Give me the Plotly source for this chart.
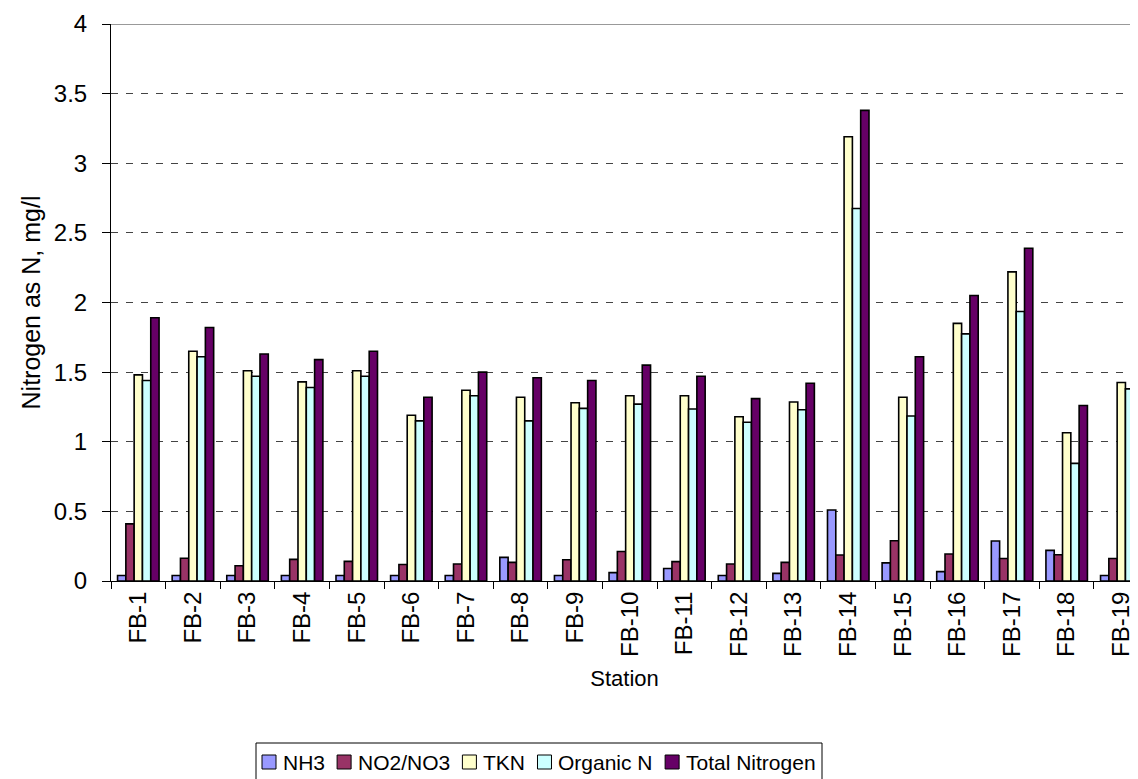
import plotly.graph_objects as go

stations = ["FB-1", "FB-2", "FB-3", "FB-4", "FB-5", "FB-6", "FB-7", "FB-8", "FB-9", "FB-10",
            "FB-11", "FB-12", "FB-13", "FB-14", "FB-15", "FB-16", "FB-17", "FB-18", "FB-19"]
nh3 = [0.04, 0.04, 0.04, 0.04, 0.04, 0.04, 0.04, 0.17, 0.04, 0.06,
       0.09, 0.04, 0.055, 0.51, 0.13, 0.067, 0.287, 0.22, 0.04]
no2_no3 = [0.41, 0.163, 0.11, 0.155, 0.141, 0.119, 0.122, 0.134, 0.153, 0.212,
           0.139, 0.122, 0.134, 0.187, 0.289, 0.194, 0.162, 0.188, 0.162]
tkn = [1.48, 1.65, 1.51, 1.43, 1.51, 1.19, 1.37, 1.32, 1.28, 1.33,
       1.33, 1.18, 1.285, 3.19, 1.32, 1.85, 2.22, 1.065, 1.425]
organic_n = [1.44, 1.61, 1.47, 1.39, 1.47, 1.15, 1.33, 1.15, 1.24, 1.27,
             1.235, 1.14, 1.23, 2.675, 1.185, 1.775, 1.935, 0.845, 1.38]
total_n = [1.89, 1.82, 1.63, 1.59, 1.65, 1.32, 1.50, 1.46, 1.44, 1.55,
           1.47, 1.31, 1.42, 3.38, 1.61, 2.05, 2.39, 1.26, 1.59]

series_names = ["NH3", "NO2/NO3", "TKN", "Organic N", "Total Nitrogen"]
series_values = [nh3, no2_no3, tkn, organic_n, total_n]
series_colors = ["#9999FF", "#993366", "#FFFFCC", "#CCFFFF", "#660066"]

FONT = "Liberation Sans, Arial, sans-serif"

# figure geometry (page body has an 8px margin)
FIG_W, FIG_H = 1130, 771
ML, MT, MB, MR = 103, 16, 198, 0
PW = FIG_W - ML - MR
PH = FIG_H - MT - MB


def px_to_paper_x(px_abs):
    return (px_abs - 8 - ML) / PW


def px_to_paper_y(py_abs):
    return (FIG_H - MB - (py_abs - 8)) / PH


fig = go.Figure()
for name, vals, color in zip(series_names, series_values, series_colors):
    fig.add_trace(go.Bar(
        x=stations, y=vals, name=name, showlegend=False,
        marker=dict(color=color, line=dict(color="#000000", width=1.6)),
    ))

# ---- manual legend (compact, Excel-like) ----
AW = {"N": 722, "H": 722, "3": 556, "O": 778, "2": 556, "/": 278, "T": 611, "K": 667,
      "r": 333, "g": 556, "a": 556, "n": 556, "i": 222, "c": 500, " ": 278, "o": 556,
      "t": 278, "l": 222, "e": 556}
LEG_FS = 21
SYM = 14
SYM_GAP = 5
box_left, box_right = 256, 822
box_top, box_bottom = 743, 784
text_w = [sum(AW.get(ch, 556) for ch in s) / 1000 * LEG_FS for s in series_names]
pad = 6
free = (box_right - box_left) - 2 * pad - len(series_names) * (SYM + SYM_GAP) - sum(text_w)
gap = free / (len(series_names) - 1)
cy = 762
shapes = [dict(type="rect", xref="paper", yref="paper",
               x0=px_to_paper_x(box_left), x1=px_to_paper_x(box_right),
               y0=px_to_paper_y(box_bottom), y1=px_to_paper_y(box_top),
               line=dict(color="#000000", width=1), fillcolor="white", layer="above")]
annotations = []
cur = box_left + pad
for name, color, tw in zip(series_names, series_colors, text_w):
    shapes.append(dict(type="rect", xref="paper", yref="paper",
                       x0=px_to_paper_x(cur), x1=px_to_paper_x(cur + SYM),
                       y0=px_to_paper_y(cy + SYM / 2), y1=px_to_paper_y(cy - SYM / 2),
                       line=dict(color="#000000", width=1), fillcolor=color, layer="above"))
    annotations.append(dict(text=name, xref="paper", yref="paper",
                            x=px_to_paper_x(cur + SYM + SYM_GAP), y=px_to_paper_y(cy),
                            xanchor="left", yanchor="middle", showarrow=False,
                            font=dict(family=FONT, size=LEG_FS, color="black")))
    cur += SYM + SYM_GAP + tw + gap

# top border of plot area
shapes.append(dict(type="line", xref="paper", yref="y", x0=0, x1=1, y0=4, y1=4,
                   line=dict(color="#999999", width=2)))

fig.update_layout(
    width=FIG_W, height=FIG_H,
    margin=dict(l=ML, r=MR, t=MT, b=MB, autoexpand=False),
    paper_bgcolor="white", plot_bgcolor="white",
    barmode="group", bargap=0.24, bargroupgap=0,
    font=dict(family=FONT, color="black", size=22),
    showlegend=False,
    xaxis=dict(
        type="category", range=[-0.5, 18.306], automargin=False,
        showline=True, linecolor="black", linewidth=1,
        ticks="outside", tickson="boundaries", ticklen=7, tickcolor="black",
        tickangle=-90, tickfont=dict(family=FONT, size=24),
        showgrid=False, zeroline=False,
        title=dict(text="Station", font=dict(family=FONT, size=22), standoff=14),
    ),
    yaxis=dict(
        range=[0, 4], dtick=0.5, automargin=False,
        showline=True, linecolor="black", linewidth=1,
        ticks="outside", ticklen=8, tickcolor="black",
        ticklabelstandoff=10,
        tickfont=dict(family=FONT, size=24),
        showgrid=True, gridcolor="#444444", gridwidth=1, griddash="7px,8px",
        zeroline=False,
        title=dict(text="Nitrogen as N, mg/l", font=dict(family=FONT, size=25), standoff=6),
    ),
    shapes=shapes,
    annotations=annotations,
)

fig.write_html("out.html")
